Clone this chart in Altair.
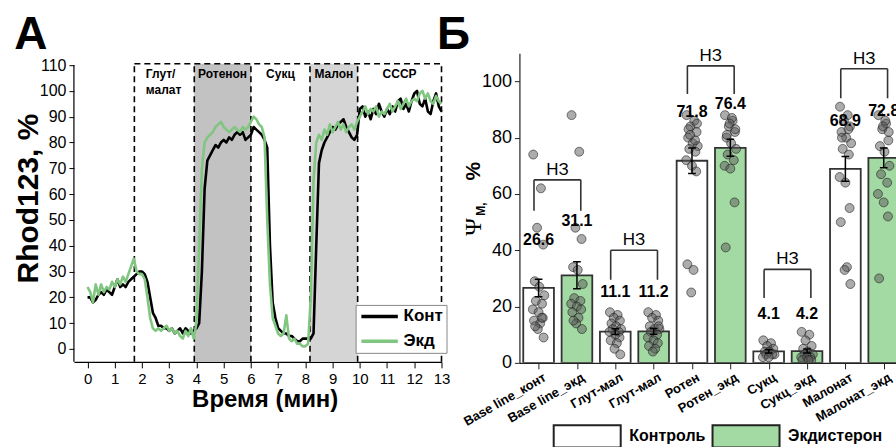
import altair as alt
import pandas as pd

FONT = "Liberation Sans"

# ---------------- Panel A: Rhod123 traces ----------------
t_min = [round(0.1 * i, 1) for i in range(131)]
kont = [
    20, 20, 18, 19, 21, 22, 21, 23, 22, 21,
    24, 27, 24, 25, 24, 26, 27, 28, 29, 30,
    30, 29, 26, 20, 14, 12, 9, 9, 8, 8,
    7, 8, 6, 7, 8, 6, 8, 7, 6, 7,
    8, 10, 30, 62, 73, 75, 77, 79, 78, 80,
    81, 80, 82, 81, 83, 84, 83, 84, 81, 82,
    83, 86, 85, 84, 83, 81, 78, 40, 18, 12,
    8, 7, 6, 6, 5, 5, 4, 3, 3, 4,
    4, 4, 4, 6, 40, 72, 77, 80, 82, 84,
    86, 85, 87, 88, 89, 86, 84, 82, 81, 83,
    93, 94, 90, 92, 89, 93, 91, 95, 92, 90,
    93, 91, 94, 92, 96, 97, 93, 95, 92, 96,
    99, 100, 95, 94, 97, 92, 91, 96, 99, 94,
    92,
]
ekd = [
    24, 22, 18, 25, 21, 25, 22, 24, 23, 26,
    24, 27, 25, 28, 26, 29, 32, 35, 30, 29,
    29, 27, 20, 12, 8, 7, 8, 7, 8, 9,
    7, 8, 6, 7, 5, 4, 7, 5, 8, 4,
    10, 40, 70, 80, 82, 83, 84, 86, 87, 88,
    86, 85, 84, 85, 86, 85, 84, 86, 85, 86,
    88, 90, 89, 87, 86, 82, 50, 25, 12, 9,
    6, 5, 6, 13, 4, 3, 4, 2, 2, 1,
    1, 2, 20, 65, 80, 83, 81, 85, 83, 87,
    84, 86, 88, 85, 87, 84, 86, 87, 85, 88,
    90, 92, 94, 91, 93, 92, 94, 90, 92, 91,
    93, 95, 92, 94, 96, 93, 95, 97, 94, 96,
    97, 96, 99, 100, 97, 99, 96, 95, 98, 96,
    95,
]
series_names = ["Конт", "Экд"]
series_colors = ["#000000", "#80c680"]

zone_bounds = [1.72, 3.92, 6.0, 8.17, 9.92, 13.0]
zone_names = ["Глут/\nмалат", "Ротенон", "Сукц", "Малон", "СССР"]
zone_shade = [None, "#c2c2c2", None, "#d5d5d5", None]
zone_top = 110.5

# ---------------- Panel B: Ψm bars ----------------
cat_labels = ["Base line_конт", "Base line_экд", "Глут-мал", "Глут-мал", "Ротен",
              "Ротен_экд", "Сукц", "Сукц_экд", "Малонат", "Малонат_экд"]
groups = ["Контроль", "Экдистерон"] * 5
means = [26.6, 31.1, 11.1, 11.2, 71.8, 76.4, 4.1, 4.2, 68.9, 72.8]
sems = [3.1, 4.8, 1.0, 1.0, 4.5, 3.0, 0.6, 0.7, 4.4, 3.5]
label_y = [43.5, 50.5, 25.0, 25.0, 89.0, 92.0, 17.5, 17.5, 86.0, 89.5]
points = [
    [74, 62, 48, 42, 29, 27, 24, 22, 21, 19, 18, 16, 15, 14, 12, 9, 13, 16],
    [88, 75, 48, 44, 34, 33, 28, 23, 22, 21, 20, 19, 18, 16, 14, 12, 15],
    [18, 17, 16, 15, 14, 13, 12, 12, 11, 11, 10, 9, 8, 7, 5, 3],
    [18, 17, 16, 15, 13, 12, 12, 11, 10, 9, 8, 7, 6, 5, 4, 13],
    [88, 86, 84, 82, 80, 78, 77, 76, 75, 72, 70, 68, 35, 33, 25, 85, 83, 79, 81],
    [88, 86, 84, 82, 80, 78, 76, 74, 72, 70, 69, 57, 41, 87, 85, 83, 81],
    [8, 7, 6, 5, 4, 4, 3, 3, 3, 2, 2],
    [11, 10, 8, 6, 5, 4, 3, 3, 2, 2, 2, 1, 1, 1],
    [91, 88, 86, 84, 82, 80, 78, 76, 74, 66, 64, 55, 50, 34, 33, 28, 80, 83],
    [88, 85, 83, 79, 77, 75, 70, 67, 64, 60, 57, 52, 30, 86, 84, 82],
]
pairs_top = [65.0, 40.0, 105.5, 33.2, 104.5]
pairs_bottom = [54.0, 29.5, 95.5, 23.0, 94.0]
sig_text = "НЗ"

jitter = [-0.14, 0.06, -0.04, 0.12, -0.1, 0.02, 0.15, -0.07, 0.09, -0.15,
          0.0, 0.11, -0.12, 0.04, -0.02, 0.13, -0.09, 0.08, -0.05]

# ================= Panel A chart =================
LW, LH = 368, 309
sxA = alt.Scale(domain=[-0.5, 13], nice=False, zero=False)
syA = alt.Scale(domain=[-5, 114.6], nice=False, zero=False)
axA_x = alt.Axis(values=list(range(14)), title="Время (мин)", grid=False,
                 labelFontSize=15, labelFont=FONT, labelColor="black", labelPadding=4,
                 labelOverlap=False, labelFlush=False,
                 tickSize=6, tickColor="black", domainColor="black", domainWidth=1.2,
                 titleFont=FONT, titleFontSize=24, titleFontWeight="bold", titleColor="black",
                 titleX=191, titleY=45, titleBaseline="alphabetic")
axA_y = alt.Axis(values=list(range(0, 111, 10)), title="Rhod123, %", grid=False, domain=False,
                 labelFontSize=16, labelFont=FONT, labelColor="black", labelPadding=3,
                 labelOverlap=False,
                 tickSize=5, tickColor="black",
                 titleFont=FONT, titleFontSize=30, titleFontWeight="bold", titleColor="black",
                 titleX=-36, titleY=145, titleBaseline="alphabetic", titleAngle=270)


def XA(f):
    return alt.X(f, type="quantitative", scale=sxA, axis=axA_x)


def YA(f):
    return alt.Y(f, type="quantitative", scale=syA, axis=axA_y)


ts = pd.DataFrame({
    "t": t_min + t_min,
    "v": kont + ekd,
    "s": [series_names[0]] * len(kont) + [series_names[1]] * len(ekd),
})

shade_rows = [
    {"a": zone_bounds[i], "b": zone_bounds[i + 1], "lo": -5, "hi": zone_top, "c": zone_shade[i]}
    for i in range(len(zone_names)) if zone_shade[i]
]
shade = alt.Chart(pd.DataFrame(shade_rows)).mark_rect().encode(
    x=XA("a"), x2="b", y=YA("lo"), y2="hi", fill=alt.Fill("c:N", scale=None))

vdash = alt.Chart(pd.DataFrame({"x": zone_bounds, "lo": -5, "hi": zone_top})).mark_rule(
    color="black", strokeWidth=1.6, strokeDash=[6, 4]).encode(x=XA("x"), y=YA("lo"), y2="hi")

hdash = alt.Chart(pd.DataFrame({"x0": [zone_bounds[0]], "x1": [zone_bounds[-1]], "y": [zone_top]})).mark_rule(
    color="black", strokeWidth=1.6, strokeDash=[6, 4]).encode(x=XA("x0"), x2="x1", y=YA("y"))

yaxis_line = alt.Chart(pd.DataFrame({"lo": [-5], "hi": [110]})).mark_rule(
    color="black", strokeWidth=1.2).encode(x=alt.value(0), y=YA("lo"), y2="hi")

lines = alt.Chart(ts).mark_line(strokeWidth=2.6, strokeJoin="round").encode(
    x=XA("t"), y=YA("v"),
    stroke=alt.Stroke("s:N", scale=alt.Scale(domain=series_names, range=series_colors),
                      legend=alt.Legend(orient="none", legendX=282, legendY=252, title=None,
                                        symbolType="M-1,0H5.4", symbolSize=130, symbolStrokeWidth=3.5,
                                        labelFont=FONT, labelFontSize=17, labelFontWeight="bold",
                                        labelColor="black", labelOffset=28, rowPadding=7, padding=3,
                                        strokeColor="#888888", fillColor="white")),
    order=alt.Order("t:Q"))

zl = pd.DataFrame({
    "x": [zone_bounds[0] + 0.42] + [(zone_bounds[i] + zone_bounds[i + 1]) / 2 for i in range(1, 5)],
    "y": [108.3] * 5,
    "txt": zone_names,
})
zone_txt_left = alt.Chart(zl.iloc[:1]).mark_text(
    align="left", baseline="top", font=FONT, fontSize=12, fontWeight="bold", lineBreak="\n",
    lineHeight=16, color="black").encode(x=XA("x"), y=YA("y"), text="txt:N")
zone_txt = alt.Chart(zl.iloc[1:]).mark_text(
    align="center", baseline="top", font=FONT, fontSize=12, fontWeight="bold",
    color="black").encode(x=XA("x"), y=YA("y"), text="txt:N")

letterA = alt.Chart(pd.DataFrame({"L": ["А"]})).mark_text(
    font=FONT, fontSize=46, fontWeight="bold", baseline="alphabetic", align="center",
    color="black").encode(x=alt.value(-43), y=alt.value(-4), text="L:N")

left = alt.layer(shade, vdash, hdash, lines, zone_txt_left, zone_txt, yaxis_line, letterA).properties(
    width=LW, height=LH)

# ================= Panel B chart =================
RW, RH = 377, 310
sxB = alt.Scale(domain=[-0.5, 9.32], nice=False, zero=False)
syB = alt.Scale(domain=[0, 110], nice=False, zero=False)
lab_expr = "[" + ",".join("'" + c + "'" for c in cat_labels) + "][datum.value]"
axB_x = alt.Axis(values=list(range(10)), labelExpr=lab_expr, title=None, grid=False,
                 labelAngle=-30, labelAlign="right", labelBaseline="top", labelOffset=3,
                 labelOverlap=False, labelFlush=False, labelBound=False,
                 labelFont=FONT, labelFontSize=13, labelFontWeight="bold", labelColor="black",
                 labelPadding=2, tickSize=6, tickColor="#222222", domainColor="#222222",
                 domainWidth=1.2)
axB_y = alt.Axis(values=list(range(0, 101, 20)), title=None, grid=False,
                 labelFont=FONT, labelFontSize=18, labelColor="black", labelPadding=3,
                 labelOverlap=False,
                 tickSize=5, tickColor="#222222", domainColor="#222222", domainWidth=1.2)


def XB(f):
    return alt.X(f, type="quantitative", scale=sxB, axis=axB_x)


def YB(f):
    return alt.Y(f, type="quantitative", scale=syB, axis=axB_y)


bars_df = pd.DataFrame({
    "idx": list(range(len(means))),
    "mean": means,
    "sem": sems,
    "grp": groups,
    "ly": label_y,
    "lab": [f"{m:.1f}" for m in means],
})
bars_df["zero"] = 0.0
bars_df["l"] = bars_df["idx"] - 0.4
bars_df["r"] = bars_df["idx"] + 0.4
bars_df["lo"] = bars_df["mean"] - bars_df["sem"]
bars_df["hi"] = bars_df["mean"] + bars_df["sem"]
bars_df["cl"] = bars_df["idx"] - 0.1
bars_df["cr"] = bars_df["idx"] + 0.1

pt_rows = []
for i, vals in enumerate(points):
    for k, v in enumerate(vals):
        pt_rows.append({"px": i + jitter[k % len(jitter)], "pv": v})
pts_df = pd.DataFrame(pt_rows)

bars = alt.Chart(bars_df).mark_rect(stroke="#333333", strokeWidth=1.8, clip=True).encode(
    x=XB("l"), x2="r", y=YB("zero"), y2="mean",
    fill=alt.Fill("grp:N", scale=alt.Scale(domain=["Контроль", "Экдистерон"], range=["#ffffff", "#a3d9a3"]),
                  legend=alt.Legend(orient="none", legendX=33, legendY=371, direction="horizontal",
                                    title=None, symbolType="M-1,-1H5V1H-1Z", symbolSize=500,
                                    symbolStrokeColor="#222222", symbolStrokeWidth=2, symbolOpacity=1,
                                    labelFont=FONT, labelFontSize=16, labelFontWeight="bold",
                                    labelColor="black", labelOffset=52, columnPadding=2, padding=0)))

pts = alt.Chart(pts_df).mark_circle(size=80, fill="#5a5a5a", fillOpacity=0.5, stroke="#1a1a1a",
                                    strokeOpacity=0.7, strokeWidth=0.8, clip=True).encode(
    x=XB("px"), y=YB("pv"))

err_v = alt.Chart(bars_df).mark_rule(color="black", strokeWidth=1.5, clip=True).encode(
    x=XB("idx"), y=YB("lo"), y2="hi")
err_t = alt.Chart(bars_df).mark_rule(color="black", strokeWidth=1.5, clip=True).encode(
    x=XB("cl"), x2="cr", y=YB("hi"))
err_b = alt.Chart(bars_df).mark_rule(color="black", strokeWidth=1.5, clip=True).encode(
    x=XB("cl"), x2="cr", y=YB("lo"))

vlab = alt.Chart(bars_df).mark_text(font=FONT, fontSize=16, fontWeight="bold", color="black",
                                    baseline="middle", clip=True).encode(
    x=XB("idx"), y=YB("ly"), text="lab:N")

br_rows = []
sig_rows = []
for p, (top, bot) in enumerate(zip(pairs_top, pairs_bottom)):
    a = 2 * p
    xl_, xr_ = a - 0.12, a + 1.1
    br_rows += [
        {"x": xl_, "x2": xr_, "y": top, "y2": top},
        {"x": xl_, "x2": xl_, "y": bot, "y2": top},
        {"x": xr_, "x2": xr_, "y": bot, "y2": top},
    ]
    sig_rows.append({"x": (xl_ + xr_) / 2, "y": top + 3.6, "txt": sig_text})
brackets = alt.Chart(pd.DataFrame(br_rows)).mark_rule(color="#333333", strokeWidth=1.6, clip=True).encode(
    x=XB("x"), x2="x2", y=YB("y"), y2="y2")
sig = alt.Chart(pd.DataFrame(sig_rows)).mark_text(font=FONT, fontSize=17, color="black",
                                                  baseline="middle").encode(
    x=XB("x"), y=YB("y"), text="txt:N")

letterB = alt.Chart(pd.DataFrame({"L": ["Б"]})).mark_text(
    font=FONT, fontSize=46, fontWeight="bold", baseline="alphabetic", align="center",
    color="black").encode(x=alt.value(-66), y=alt.value(-4), text="L:N")

ytitle_psi = alt.Chart(pd.DataFrame({"L": ["Ψ"]})).mark_text(
    font="Liberation Serif", fontSize=24, angle=270, baseline="middle", align="center",
    color="black").encode(x=alt.value(-45), y=alt.value(174), text="L:N")
ytitle_m = alt.Chart(pd.DataFrame({"L": ["M,"]})).mark_text(
    font=FONT, fontSize=12, fontWeight="bold", angle=270, baseline="middle", align="center",
    color="black").encode(x=alt.value(-38), y=alt.value(156), text="L:N")
ytitle_pc = alt.Chart(pd.DataFrame({"L": ["%"]})).mark_text(
    font=FONT, fontSize=21, fontWeight="bold", angle=270, baseline="middle", align="center",
    color="black").encode(x=alt.value(-45), y=alt.value(118), text="L:N")

right = alt.layer(bars, pts, err_v, err_t, err_b, vlab, brackets, sig,
                  letterB, ytitle_psi, ytitle_m, ytitle_pc).properties(width=RW, height=RH)

chart = alt.hconcat(left, right, spacing=78, bounds="flush").resolve_scale(
    stroke="independent", fill="independent").properties(
    padding={"left": 13, "top": 12, "right": 0, "bottom": 0},
    background="white",
).configure_view(stroke=None)

chart.save("out.html", embed_options={"renderer": "svg", "actions": False})
